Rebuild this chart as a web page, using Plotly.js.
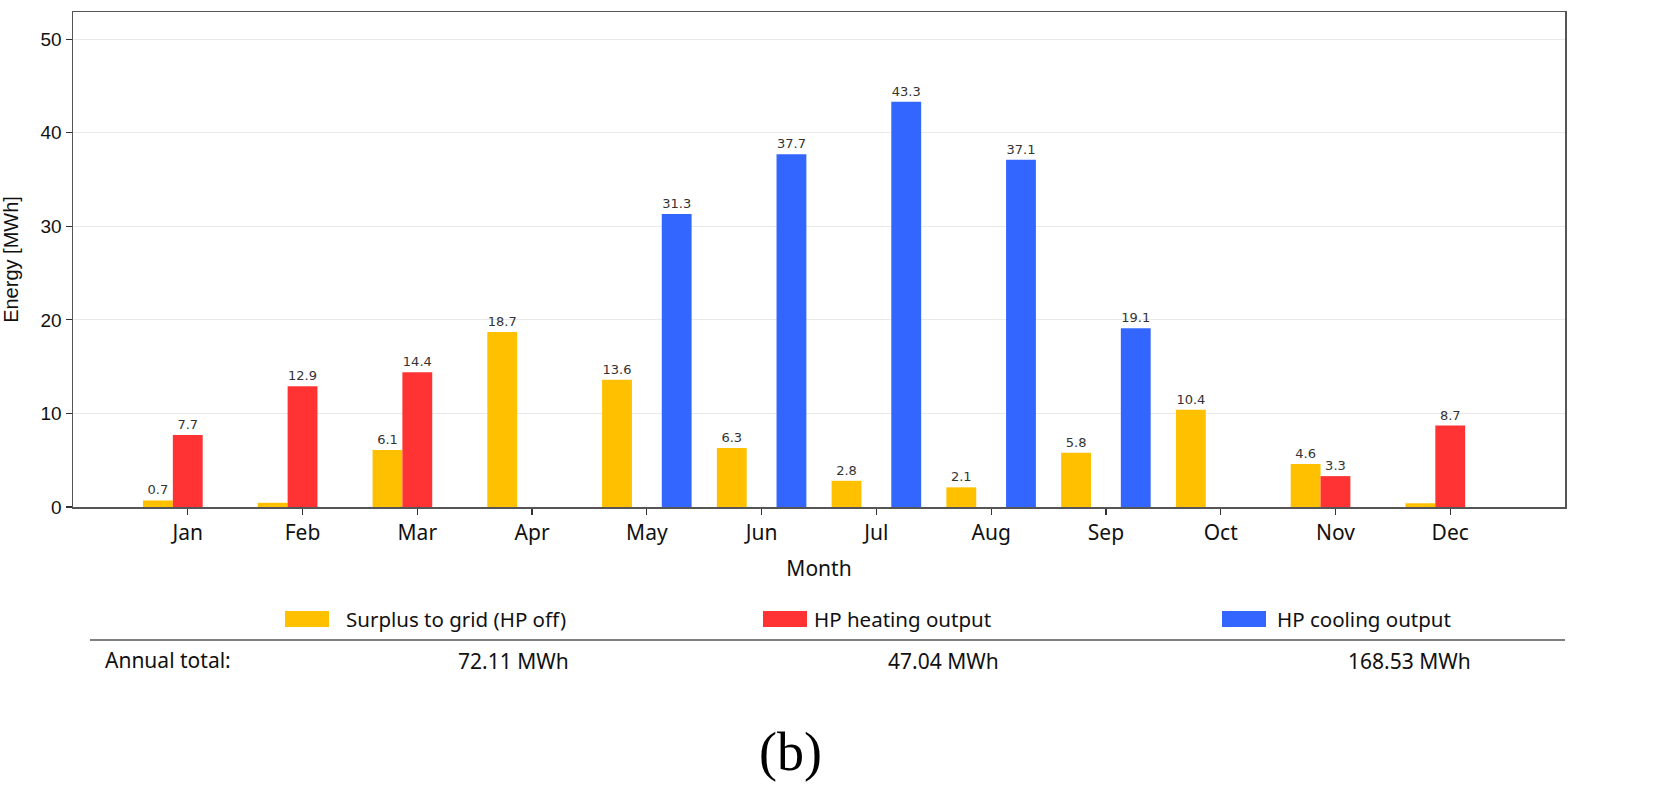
<!DOCTYPE html>
<html>
<head>
<meta charset="utf-8">
<script src="https://cdn.plot.ly/plotly-3.0.1.min.js"></script>
<style>
  html, body { margin: 0; padding: 0; background: #fff; }
  #chart { width: 1677px; height: 792px; }
</style>
</head>
<body>
<div id="chart"></div>
<script>
// monthly energy, MWh
var months  = ['Jan','Feb','Mar','Apr','May','Jun','Jul','Aug','Sep','Oct','Nov','Dec'];
var surplus = [0.7, 0.45, 6.1, 18.7, 13.6, 6.3, 2.8, 2.1, 5.8, 10.4, 4.6, 0.4];
var heating = [7.7, 12.9, 14.4, 0, 0, 0, 0, 0, 0, 0, 3.3, 8.7];
var cooling = [0, 0, 0, 0, 31.3, 37.7, 43.3, 37.1, 19.1, 0, 0, 0];

var seriesNames  = ['Surplus to grid (HP off)', 'HP heating output', 'HP cooling output'];
var seriesColors = ['#FFC000', '#FF3333', '#3366FF'];
var annualTotals = ['72.11 MWh', '47.04 MWh', '168.53 MWh'];

// plot area in page pixels
var L = 73, R = 1565, T = 12, B = 507;
var W = 1677, H = 792;

function px(x){ return (x - L) / (R - L); }
function py(y){ return (B - y) / (B - T); }

function barLabels(vals){
	var out = [];
	for (var i = 0; i < vals.length; i++) {
		out.push(vals[i] >= 0.5 ? vals[i].toFixed(1) : '');
	}
	return out;
}

var allSeries = [surplus, heating, cooling];
var data = [];
for (var s = 0; s < allSeries.length; s++) {
	data.push({
		type: 'bar',
		name: seriesNames[s],
		x: months,
		y: allSeries[s],
		text: barLabels(allSeries[s]),
		textposition: 'outside',
		constraintext: 'none',
		cliponaxis: false,
		textfont: { family: 'DejaVu Sans', size: 13, color: '#333' },
		marker: { color: seriesColors[s], line: { width: 0 } },
		hoverinfo: 'skip'
	});
}

// custom legend + totals row below the plot
var shapes = [];
var annotations = [];
var swatchX = [285, 763, 1222];
var labelX  = [344, 812, 1275];
var totalX  = [513, 943, 1409];
for (var k = 0; k < seriesNames.length; k++) {
	shapes.push({
		type: 'rect', xref: 'paper', yref: 'paper',
		x0: px(swatchX[k]), x1: px(swatchX[k] + 44),
		y0: py(627), y1: py(611),
		fillcolor: seriesColors[k], line: { width: 0 }
	});
	annotations.push({
		xref: 'paper', yref: 'paper', x: px(labelX[k]), y: py(619),
		xanchor: 'left', yanchor: 'middle', showarrow: false,
		text: seriesNames[k],
		font: { family: 'Noto Sans', size: 20.5, color: '#111' }
	});
	annotations.push({
		xref: 'paper', yref: 'paper', x: px(totalX[k]), y: py(661),
		xanchor: 'center', yanchor: 'middle', showarrow: false,
		text: annualTotals[k],
		font: { family: 'Noto Sans', size: 21, color: '#111' }
	});
}
shapes.push({
	type: 'line', xref: 'paper', yref: 'paper',
	x0: px(90), x1: px(1565), y0: py(640), y1: py(640),
	line: { color: '#000', width: 1.2 }
});
annotations.push({
	xref: 'paper', yref: 'paper', x: px(103), y: py(660),
	xanchor: 'left', yanchor: 'middle', showarrow: false,
	text: 'Annual total:',
	font: { family: 'Noto Sans', size: 21, color: '#111' }
});
annotations.push({
	xref: 'paper', yref: 'paper', x: px(790), y: py(752),
	xanchor: 'center', yanchor: 'middle', showarrow: false,
	text: '(b)',
	font: { family: 'Liberation Serif', size: 54, color: '#000' }
});

var layout = {
	width: W, height: H,
	margin: { l: L, r: W - R, t: T, b: H - B, pad: 0 },
	paper_bgcolor: '#fff',
	plot_bgcolor: '#fff',
	showlegend: false,
	barmode: 'group',
	bargap: 0.22,
	bargroupgap: 0,
	xaxis: {
		type: 'category',
		range: [-1, 12],
		showgrid: false,
		showline: true, mirror: true, linecolor: '#555', linewidth: 1.5,
		ticks: 'outside', ticklen: 6, tickcolor: '#333', tickwidth: 1.2,
		tickfont: { family: 'Noto Sans', size: 21, color: '#111' },
		title: { text: 'Month', standoff: 16, font: { family: 'Noto Sans', size: 21, color: '#111' } },
		fixedrange: true
	},
	yaxis: {
		range: [0, 52.9],
		tickvals: [0, 10, 20, 30, 40, 50],
		showgrid: true, gridcolor: '#e9e9e9', gridwidth: 1,
		zeroline: false,
		showline: true, mirror: true, linecolor: '#555', linewidth: 1.5,
		ticks: 'outside', ticklen: 6, tickcolor: '#333', tickwidth: 1.2,
		tickfont: { family: 'Liberation Sans', size: 19, color: '#111' },
		title: { text: 'Energy [MWh]', standoff: 16, font: { family: 'Liberation Sans', size: 20, color: '#111' } },
		fixedrange: true
	},
	shapes: shapes,
	annotations: annotations
};

Plotly.newPlot('chart', data, layout, { staticPlot: true, displayModeBar: false });
</script>
</body>
</html>
